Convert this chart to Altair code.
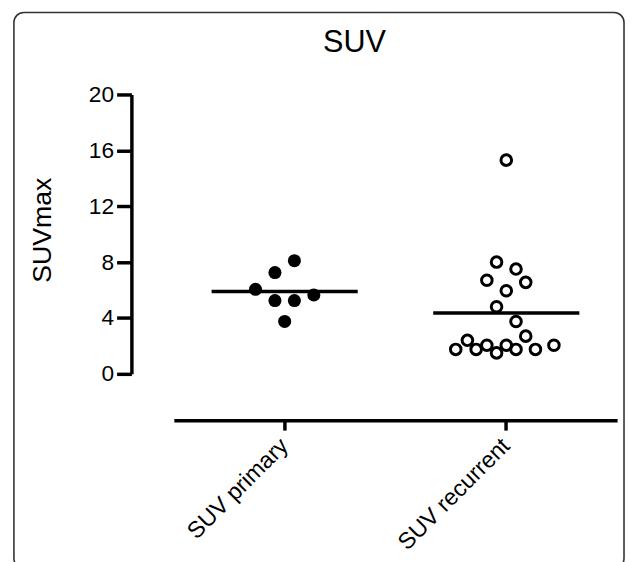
import altair as alt
import pandas as pd

# --- data ---
primary_values = [8.1, 7.25, 6.05, 5.25, 5.25, 5.65, 3.75]
primary_slots = [0.5, -0.5, -1.5, -0.5, 0.5, 1.5, 0.0]

recurrent_values = [15.3, 8.0, 7.5, 6.7, 6.55, 5.95, 4.8, 3.75, 2.4, 2.7,
                    2.05, 2.05, 2.05, 1.75, 1.75, 1.75, 1.75, 1.5]
recurrent_slots = [0.0, -0.5, 0.5, -1.0, 1.0, 0.0, -0.5, 0.5, -2.0, 1.0,
                   -1.0, 0.0, 2.45, -2.6, -1.55, 0.5, 1.5, -0.5]

categories = ["SUV primary", "SUV recurrent"]
y_ticks = list(range(0, 21, 2))
chart_title = "SUV"

df = pd.DataFrame({
    "group": [categories[0]] * len(primary_values) + [categories[1]] * len(recurrent_values),
    "value": primary_values + recurrent_values,
    "slot": primary_slots + recurrent_slots,
})
prim = df[df.group == categories[0]]
recu = df[df.group == categories[1]]

FONT = "Liberation Sans"

x_enc = alt.X(
    "group:N", sort=categories,
    scale=alt.Scale(paddingInner=0, paddingOuter=0),
    axis=alt.Axis(title=None, labelAngle=-45, labelAlign="right", labelBaseline="middle",
                  labelFontSize=23.5, labelColor="black", labelPadding=12,
                  tickSize=10, tickWidth=3.5, tickColor="black",
                  domainWidth=3.5, domainColor="black", offset=47, grid=False),
)
y_enc = alt.Y(
    "value:Q",
    scale=alt.Scale(domain=[0, 20], nice=False, zero=True),
    axis=alt.Axis(values=y_ticks, title="SUVmax", titleFontSize=27, titleFontWeight="normal",
                  titleColor="black", titlePadding=32, titleY=137,
                  labelExpr="datum.value % 4 === 0 ? datum.label : ''",
                  labelFontSize=23, labelColor="black", labelPadding=3,
                  tickSize={"condition": {"test": "datum.value % 4 === 0", "value": 15}, "value": 10},
                  tickWidth=3.5, tickColor="black",
                  domainWidth=3.5, domainColor="black", offset=43, grid=False),
)
xoff = alt.XOffset("slot:Q", scale=alt.Scale(domain=[-5.7, 5.7]))

filled = alt.Chart(prim).mark_point(filled=True, size=175, color="black", opacity=1).encode(
    x=x_enc, y=y_enc, xOffset=xoff)
opened = alt.Chart(recu).mark_point(filled=False, size=115, strokeWidth=3, color="black", opacity=1).encode(
    x=x_enc, y=y_enc, xOffset=xoff)
means = alt.Chart(df).mark_tick(size=148, thickness=3.5, color="black", opacity=1).encode(
    x=x_enc, y=alt.Y("mean(value):Q"))

one = pd.DataFrame({"t": [chart_title]})
border = alt.Chart(one).mark_rect(
    fillOpacity=0, stroke="#333333", strokeWidth=1.6, cornerRadius=10).encode(
    x=alt.value(-162), x2=alt.value(456), y=alt.value(-83), y2=alt.value(480))
title = alt.Chart(one).mark_text(fontSize=31, align="center", baseline="alphabetic",
                                 color="black").encode(
    text="t:N", x=alt.value(183), y=alt.value(-43.5))

chart = alt.layer(border, title, means, filled, opened).properties(
    width=449, height=283,
    autosize=alt.AutoSizeParams(type="none"),
    padding={"left": 168, "top": 84, "right": 8, "bottom": 187},
).configure(font=FONT).configure_view(stroke=None)

chart.save("out.html", embed_options={"renderer": "svg", "actions": False})
